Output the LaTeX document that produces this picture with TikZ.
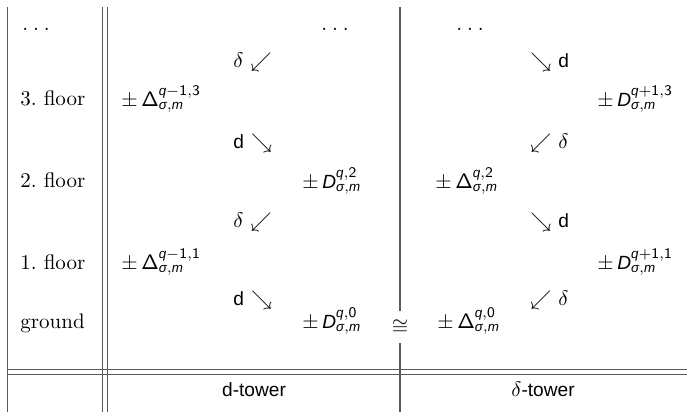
\documentclass[tikz,border=0pt]{standalone}
\usepackage{amsmath}
\usepackage[no-math]{fontspec}
\setsansfont[Scale=0.91]{Liberation Sans}
\frenchspacing
\newcommand{\si}[1]{\text{\sffamily\itshape #1}}
\newcommand{\lowdots}{.\kern2.3pt.\kern2.3pt.}
\begin{document}
\begin{tikzpicture}[x=0.476pt, y=-0.476pt,
    rule/.style={black!65, line width=0.6pt},
    lab/.style={anchor=base west, inner sep=0pt}]
    \useasboundingbox (0,0) rectangle (687,412);

    % Define the ends of the table rules
    \coordinate (LT) at (7.5,7);
    \coordinate (LB) at (7.5,412);
    \coordinate (DT) at (102.5,7);
    \coordinate (DB) at (102.5,412);
    \coordinate (ET) at (107.5,7);
    \coordinate (EB) at (107.5,412);
    \coordinate (MT) at (400,7);
    \coordinate (MB) at (400,412);
    \coordinate (HL) at (7.5,369.5);
    \coordinate (HR) at (687,369.5);
    \coordinate (KL) at (7.5,374.5);
    \coordinate (KR) at (687,374.5);

    % Floor names
    \node (dotsL) at (22,30) [lab] {\lowdots};
    \node (fl3) at (20,105) [lab] {3. floor};
    \node (fl2) at (20,187) [lab] {2. floor};
    \node (fl1) at (20,269) [lab] {1. floor};
    \node (gnd) at (20,328) [lab] {ground};

    % d-tower
    \node (dotsD) at (321,30) [lab] {\lowdots};
    \node (dA) at (233,67) [lab] {$\delta$ $\swarrow$};
    \node (dT3) at (121,106) [lab] {$\pm\,\mathsf{\Delta}^{\si{q}-\mathsf{1},\mathsf{3}}_{\si{σ},\si{m}}$};
    \node (dB) at (233,148) [lab] {\textsf{d} $\searrow$};
    \node (dT2) at (302,188) [lab] {$\pm\,\si{D}^{\si{q},\mathsf{2}}_{\si{σ},\si{m}}$};
    \node (dC) at (233,227) [lab] {$\delta$ $\swarrow$};
    \node (dT1) at (121,269) [lab] {$\pm\,\mathsf{\Delta}^{\si{q}-\mathsf{1},\mathsf{1}}_{\si{σ},\si{m}}$};
    \node (dD) at (233,305) [lab] {\textsf{d} $\searrow$};
    \node (dT0) at (302,328) [lab] {$\pm\,\si{D}^{\si{q},\mathsf{0}}_{\si{σ},\si{m}}$};

    % delta-tower
    \node (dotsE) at (456,30) [lab] {\lowdots};
    \node (eA) at (530,67) [lab] {$\searrow$ \textsf{d}};
    \node (eT3) at (597,106) [lab] {$\pm\,\si{D}^{\si{q}+\mathsf{1},\mathsf{3}}_{\si{σ},\si{m}}$};
    \node (eB) at (530,148) [lab] {$\swarrow$ $\delta$};
    \node (eT2) at (435,188) [lab] {$\pm\,\mathsf{\Delta}^{\si{q},\mathsf{2}}_{\si{σ},\si{m}}$};
    \node (eC) at (530,227) [lab] {$\searrow$ \textsf{d}};
    \node (eT1) at (597,269) [lab] {$\pm\,\si{D}^{\si{q}+\mathsf{1},\mathsf{1}}_{\si{σ},\si{m}}$};
    \node (eD) at (530,305) [lab] {$\swarrow$ $\delta$};
    \node (eT0) at (437,328) [lab] {$\pm\,\mathsf{\Delta}^{\si{q},\mathsf{0}}_{\si{σ},\si{m}}$};

    % iso between the towers
    \node (iso) at (400,327) [inner xsep=1pt, inner ysep=4pt] {$\cong$};

    % Column heads at the bottom
    \node (dTow) at (254,396) [anchor=base] {\textsf{d-tower}};
    \node (eTow) at (543,396) [anchor=base] {$\delta$\textsf{-tower}};

    % Draw the rules
    \draw[rule] (LT) -- (LB);
    \draw[rule] (DT) -- (DB);
    \draw[rule] (ET) -- (EB);
    \draw[rule] (MT) -- (iso.north);
    \draw[rule] (iso.south) -- (MB);
    \draw[rule] (HL) -- (HR);
    \draw[rule] (KL) -- (KR);
\end{tikzpicture}
\end{document}
